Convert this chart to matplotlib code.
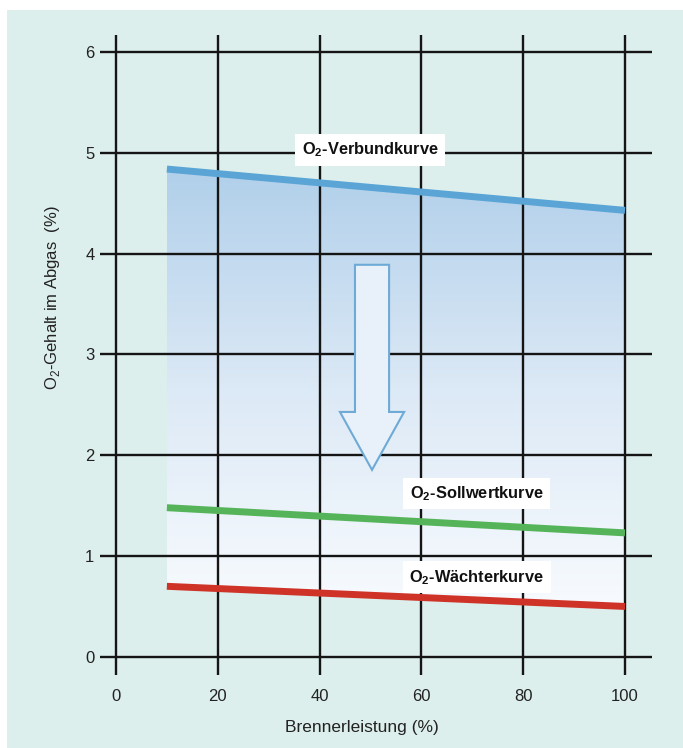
import numpy as np
import matplotlib
matplotlib.use("Agg")
import matplotlib.pyplot as plt
from matplotlib.patches import Rectangle, FancyArrow
from matplotlib.colors import LinearSegmentedColormap

plt.rcParams['font.family'] = ['Liberation Sans', 'DejaVu Sans']
plt.rcParams['mathtext.fontset'] = 'custom'
plt.rcParams['mathtext.rm'] = 'Liberation Sans'
plt.rcParams['mathtext.bf'] = 'Liberation Sans:bold'

# Data
load = [10, 100]                 # Brennerleistung (%)
verbund = [4.84, 4.43]           # O2-Verbundkurve
sollwert = [1.48, 1.23]          # O2-Sollwertkurve
waechter = [0.70, 0.50]          # O2-Wächterkurve
x_ticks = [0, 20, 40, 60, 80, 100]
y_ticks = [0, 1, 2, 3, 4, 5, 6]

fig = plt.figure(figsize=(6.83, 7.48), dpi=100, facecolor='white')

# teal background panel
fig.patches.append(Rectangle((7 / 683, 0), 1, 738 / 748, transform=fig.transFigure,
                             facecolor='#dcefec', edgecolor='none', zorder=-10))

ax = fig.add_axes([100 / 683, 73 / 748, 552 / 683, 640 / 748])
ax.set_facecolor('none')

# gradient area between the Verbund and Wächter curves
fill = ax.fill_between(load, waechter, verbund, facecolor='none', edgecolor='none')
cmap = LinearSegmentedColormap.from_list('bl', ['#f8fbfe', '#dce9f6', '#b0cfea'])
grad = np.linspace(0, 1, 256).reshape(-1, 1)
img = ax.imshow(grad, cmap=cmap, origin='lower', aspect='auto',
                extent=[load[0], load[1], min(waechter) - 0.05, max(verbund) + 0.05],
                zorder=1)
img.set_clip_path(fill.get_paths()[0], transform=ax.transData)
ax.set_xlim(-3.14, 105.3)
ax.set_ylim(-0.18, 6.17)

# grid
for xv in x_ticks:
    ax.axvline(xv, color='#151515', lw=1.7, zorder=2)
for yv in y_ticks:
    ax.axhline(yv, color='#151515', lw=1.7, zorder=2)

# arrow
ax.add_patch(FancyArrow(50.3, 3.89, 0, 1.855 - 3.89, width=6.7, head_width=12.6,
                        head_length=0.575, length_includes_head=True,
                        facecolor='#e8f1fa', edgecolor='#6eaad6', lw=1.5, zorder=3))

# curves
ax.plot(load, verbund, color='#5aa5d6', lw=5, solid_capstyle='butt', zorder=4)
ax.plot(load, sollwert, color='#55b45a', lw=5, solid_capstyle='butt', zorder=4)
ax.plot(load, waechter, color='#cf3328', lw=5, solid_capstyle='butt', zorder=4)

box = dict(boxstyle='square,pad=0.4', facecolor='white', edgecolor='none')
ax.text(49.9, 5.03, r'O$_\mathbf{2}$-Verbundkurve', ha='center', va='center',
        fontsize=11.8, fontweight='bold', color='#111111', bbox=box, zorder=5)
ax.text(70.9, 1.62, r'O$_\mathbf{2}$-Sollwertkurve', ha='center', va='center',
        fontsize=11.8, fontweight='bold', color='#111111', bbox=box, zorder=5)
ax.text(70.9, 0.79, r'O$_\mathbf{2}$-Wächterkurve', ha='center', va='center',
        fontsize=11.8, fontweight='bold', color='#111111', bbox=box, zorder=5)

# ticks and labels
ax.set_xticks(x_ticks)
ax.set_yticks(y_ticks)
ax.tick_params(axis='both', length=0, labelsize=12, colors='#222222')
ax.tick_params(axis='x', pad=10)
ax.tick_params(axis='y', pad=4)
for s in ax.spines.values():
    s.set_visible(False)

ax.set_xlabel('Brennerleistung (%)', fontsize=12.5, color='#222222')
ax.xaxis.set_label_coords(0.475, -0.07)
ax.set_ylabel(r'O$_2$-Gehalt im Abgas  (%)', fontsize=12, color='#222222')
ax.yaxis.set_label_coords(-0.069, 0.589)

fig.savefig('out.png', dpi=100, facecolor=fig.get_facecolor())
